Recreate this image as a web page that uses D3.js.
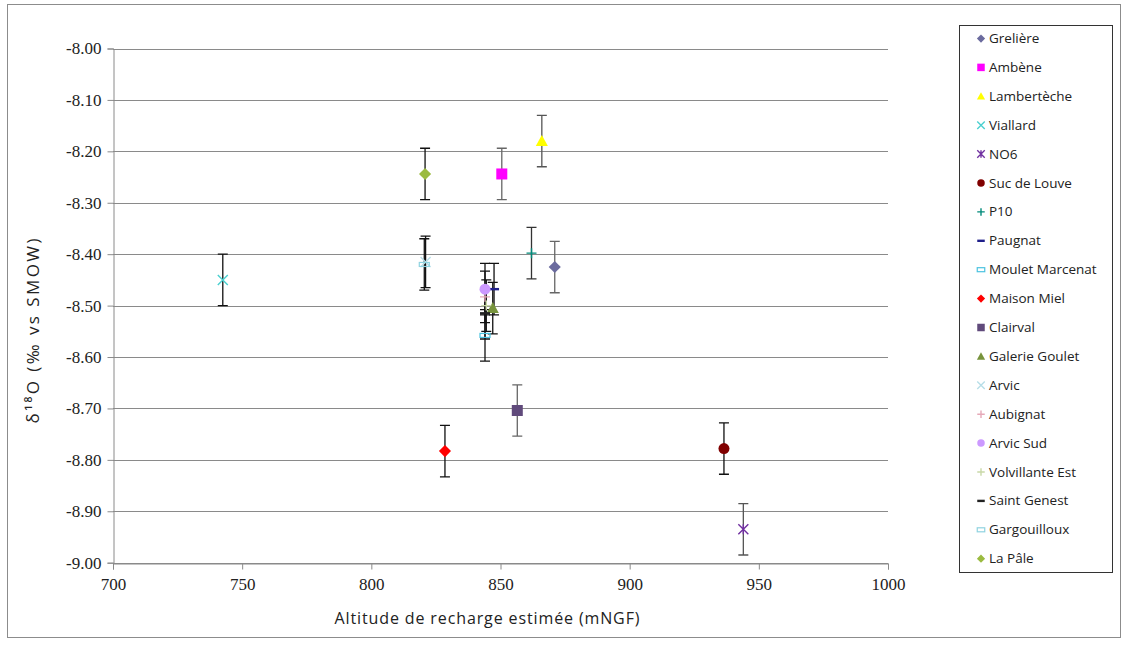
<!DOCTYPE html>
<html><head><meta charset="utf-8">
<script src="https://cdn.jsdelivr.net/npm/d3@7"></script>
<style>body{margin:0;background:#fff}svg{display:block}</style>
</head><body>
<svg id="c" width="1128" height="646"></svg>
<script>
// ---- data ----
const seriesNames = ["Grelière","Ambène","Lambertèche","Viallard","NO6","Suc de Louve","P10","Paugnat","Moulet Marcenat","Maison Miel","Clairval","Galerie Goulet","Arvic","Aubignat","Arvic Sud","Volvillante Est","Saint Genest","Gargouilloux","La Pâle"];
const altitudes   = [871, 850.5, 866, 742.5, 944, 936.5, 862, 847.5, 844, 828.5, 856.5, 847, 821, 844, 844, 844.5, 844, 820.5, 820.8];
const delta18O    = [-8.425, -8.244, -8.18, -8.45, -8.935, -8.778, -8.398, -8.468, -8.558, -8.783, -8.704, -8.505, -8.415, -8.483, -8.468, -8.50, -8.515, -8.42, -8.244];
const errors      = [0.05, 0.05, 0.05, 0.05, 0.05, 0.05, 0.05, 0.05, 0.05, 0.05, 0.05, 0.05, 0.05, 0.05, 0.05, 0.05, 0.05, 0.05, 0.05];
const xTicks = [700, 750, 800, 850, 900, 950, 1000];
const yTicks = [-8.00, -8.10, -8.20, -8.30, -8.40, -8.50, -8.60, -8.70, -8.80, -8.90, -9.00];

// ---- styles ----
const markerShapes = ["diamond","square","triangle","x","star","circle","plus","dash","dash2","diamond","square","triangle","x","plus","circle","plus","dash","dash2","diamond"];
const markerColors = ["#6b6b9e","#ff00ff","#ffff00","#4bd0d0","#7030a0","#800000","#008a7a","#1f1f8a","#4bc3e0","#ff0000","#604a7b","#77933c","#b7dee8","#e6a9b8","#cc99ff","#c9d9a8","#222222","#8fd3e0","#9bbb40"];
const errColors    = ["#666","#666","#555","#111","#555","#111","#333","#111","#111","#111","#666","#111","#111","#111","#111","#111","#111","#111","#111"];

const svg = d3.select("#c");
svg.append("rect").attr("x",7.5).attr("y",4.5).attr("width",1113).attr("height",633)
  .attr("fill","#fff").attr("stroke","#8c8c8c");

const x = d3.scaleLinear().domain([700,1000]).range([113,888]);
const y = d3.scaleLinear().domain([-9,-8]).range([562.7,48.5]);

// gridlines
svg.append("g").selectAll("line").data(yTicks).join("line")
  .attr("x1",113).attr("x2",888)
  .attr("y1",d=>Math.round(y(d))+0.5).attr("y2",d=>Math.round(y(d))+0.5)
  .attr("stroke","#8a8a8a").attr("stroke-width",1);

const fmtY = d => d.toFixed(2);   // plain hyphen-minus, as in the reference

// y axis
const yAxis = d3.axisLeft(y).tickValues(yTicks).tickFormat(fmtY).tickSize(6).tickPadding(6);
const gy = svg.append("g").attr("transform","translate(113.5,0)").call(yAxis);
gy.attr("font-family",null).attr("font-size",null);
gy.select(".domain").attr("stroke","#8a8a8a");
gy.selectAll(".tick line").attr("stroke","#8a8a8a");
gy.selectAll("text").style("font-family","'Liberation Serif', serif").style("font-size","17px").attr("fill","#222");

// x axis
const xAxis = d3.axisBottom(x).tickValues(xTicks).tickFormat(d3.format("d")).tickSize(6).tickPadding(8);
const gx = svg.append("g").attr("transform",`translate(0,${Math.round(y(-9))+0.5})`).call(xAxis);
gx.attr("font-family",null).attr("font-size",null);
gx.select(".domain").attr("stroke","#8a8a8a");
gx.selectAll(".tick line").attr("stroke","#8a8a8a");
gx.selectAll("text").style("font-family","'Liberation Serif', serif").style("font-size","17px").attr("fill","#222");

// axis titles
svg.append("text").attr("x",487).attr("y",624).attr("text-anchor","middle")
  .attr("font-family","Open Sans").attr("font-size",16).attr("fill","#222")
  .attr("textLength",305).attr("lengthAdjust","spacing")
  .text("Altitude de recharge estimée (mNGF)");
svg.append("text").attr("transform","translate(39,331) rotate(-90)").attr("text-anchor","middle")
  .attr("font-family","Open Sans").attr("font-size",17).attr("fill","#222")
  .attr("textLength",185).attr("lengthAdjust","spacing")
  .text("δ¹⁸O (‰ vs SMOW)");

function drawMarker(g, shape, color, cx, cy, s) {
  switch (shape) {
    case "diamond": {
      const h = s*0.55;
      g.append("path").attr("d",`M${cx},${cy-h}L${cx+h},${cy}L${cx},${cy+h}L${cx-h},${cy}Z`).attr("fill",color); break;
    }
    case "square":
      g.append("rect").attr("x",cx-s/2).attr("y",cy-s/2).attr("width",s).attr("height",s).attr("fill",color); break;
    case "triangle": {
      const h = s*0.55;
      g.append("path").attr("d",`M${cx},${cy-h}L${cx+h},${cy+h*0.8}L${cx-h},${cy+h*0.8}Z`).attr("fill",color); break;
    }
    case "circle":
      g.append("circle").attr("cx",cx).attr("cy",cy).attr("r",s/2).attr("fill",color); break;
    case "x":
      g.append("path").attr("d",`M${cx-s/2},${cy-s/2}L${cx+s/2},${cy+s/2}M${cx-s/2},${cy+s/2}L${cx+s/2},${cy-s/2}`).attr("stroke",color).attr("stroke-width",1.4); break;
    case "star":
      g.append("path").attr("d",`M${cx-s/2},${cy-s/2}L${cx+s/2},${cy+s/2}M${cx-s/2},${cy+s/2}L${cx+s/2},${cy-s/2}M${cx},${cy-s/2}L${cx},${cy+s/2}`).attr("stroke",color).attr("stroke-width",1.4); break;
    case "plus":
      g.append("path").attr("d",`M${cx-s/2},${cy}L${cx+s/2},${cy}M${cx},${cy-s/2}L${cx},${cy+s/2}`).attr("stroke",color).attr("stroke-width",1.4); break;
    case "dash":
      g.append("rect").attr("x",cx-s/2).attr("y",cy-1.2).attr("width",s).attr("height",2.4).attr("fill",color); break;
    case "dash2":
      g.append("rect").attr("x",cx-s/2).attr("y",cy-2).attr("width",s).attr("height",4).attr("fill","none").attr("stroke",color).attr("stroke-width",1.2); break;
  }
}

// error bars + markers
const plot = svg.append("g");
const cap = 5;
seriesNames.forEach((n,i)=>{
  const cx = x(altitudes[i]);
  const y1 = y(delta18O[i]+errors[i]), y2 = y(delta18O[i]-errors[i]);
  plot.append("path")
    .attr("d",`M${cx},${y1}L${cx},${y2}M${cx-cap},${y1}L${cx+cap},${y1}M${cx-cap},${y2}L${cx+cap},${y2}`)
    .attr("stroke",errColors[i]).attr("stroke-width",1.3).attr("fill","none");
});
seriesNames.forEach((n,i)=>{
  const cx = x(altitudes[i]), cy = y(delta18O[i]);
  const big = ["triangle","circle","square","diamond"].includes(markerShapes[i]) ? 11 : 10;
  drawMarker(plot, markerShapes[i], markerColors[i], cx, cy, big);
});

// legend
svg.append("rect").attr("x",959.5).attr("y",25.5).attr("width",153).attr("height",547)
  .attr("fill","#fff").attr("stroke","#333");
const leg = svg.append("g");
seriesNames.forEach((n,i)=>{
  const ly = 38.5 + i*28.9;
  drawMarker(leg, markerShapes[i], markerColors[i], 981, ly, 7.5);
  leg.append("text").attr("x",989).attr("y",ly+4.5)
    .attr("font-family","Open Sans").attr("font-size",13.5).attr("fill","#222").text(n);
});
</script>
</body></html>
